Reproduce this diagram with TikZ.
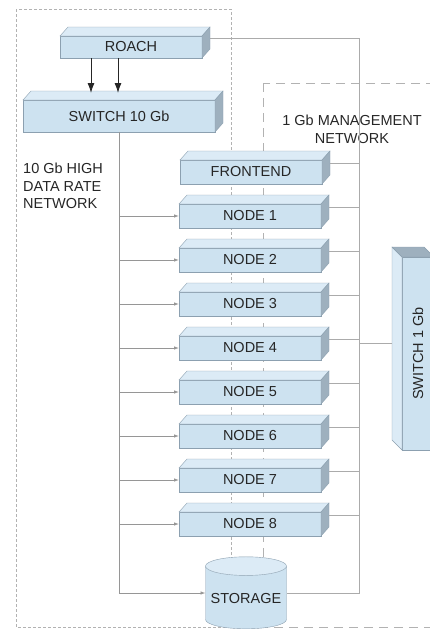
\documentclass[tikz,border=0pt]{standalone}
\usepackage{fontspec}
\setmainfont{Liberation Sans}
\usepackage{tikz}
\usetikzlibrary{positioning}
\usetikzlibrary{shapes.geometric}
\usetikzlibrary{arrows.meta}

\definecolor{boxfront}{RGB}{205,226,240}
\definecolor{boxtop}{RGB}{220,235,246}
\definecolor{boxside}{RGB}{158,176,190}
\definecolor{boxline}{RGB}{140,160,176}
\definecolor{wire}{RGB}{150,150,150}
\definecolor{zone}{RGB}{178,178,178}

\begin{document}
\begin{tikzpicture}[x=1pt,y=-1pt]
    \tikzset{slab/.style={shape=rectangle,draw=boxline,fill=boxfront,minimum width=142pt,minimum height=24pt,inner sep=2pt,outer sep=0pt,text=black!85,font=\fontsize{14.5}{17.5}\selectfont}}
    \tikzset{topface/.style={draw=boxline,fill=boxtop}}
    \tikzset{sideface/.style={draw=boxline,fill=boxside}}
    \tikzset{edge/.style = {->,> = {Latex[length=10pt,width=7pt]},line width=0.9pt,black!85}}
    \tikzset{bus/.style = {->,> = {Latex[length=5pt,width=3.5pt]},line width=0.8pt,wire}}
    \tikzset{mgmt/.style = {line width=0.8pt,wire!80}}
    \tikzset{zonetext/.style = {inner sep=0pt,font=\fontsize{14.5}{17.5}\selectfont,text=black!85}}
    \clip (0,0) rectangle (430,629);

    % network zones
    \draw[zone, line width=0.8pt, dash pattern=on 3pt off 2pt] (16,9) rectangle (231,627);
    \draw[zone, line width=0.8pt, dash pattern=on 9pt off 6pt] (263,83) rectangle (450,627);

    \node[slab, minimum height=22pt] (roach) at (131,47) {ROACH};
    \node[slab, minimum width=192pt, minimum height=32pt] (sw10) at (119,116) {SWITCH 10 Gb};
    \node[slab] (frontend) at (251,172) {FRONTEND};
    \foreach \i in {1,...,8}
        \node[slab] (node\i) at (250,172+44*\i) {NODE \i};
    \node[slab, minimum width=32pt, minimum height=193pt] (sw1) at (418,353.5) {\rotatebox{90}{SWITCH 1 Gb}};
    \node[cylinder, shape border rotate=90, aspect=0.25, draw=boxline, cylinder uses custom fill,
          cylinder body fill=boxfront, cylinder end fill=boxtop, minimum width=81pt, minimum height=72pt,
          inner sep=2pt, outer sep=0pt, text=black!85, font=\fontsize{14.5}{17.5}\selectfont] (storage) at (246,599) {STORAGE};

    % 3d faces
    \foreach \n in {roach,sw10,frontend,node1,node2,node3,node4,node5,node6,node7,node8} {
        \draw[topface] (\n.north west) -- ++(8pt,9pt) -- ([shift={(8pt,9pt)}]\n.north east) -- (\n.north east) -- cycle;
        \draw[sideface] (\n.north east) -- ++(8pt,9pt) -- ([shift={(8pt,9pt)}]\n.south east) -- (\n.south east) -- cycle;
    }
    \draw[topface] (sw1.south west) -- ++(-10pt,10pt) -- ([shift={(-10pt,10pt)}]sw1.north west) -- (sw1.north west) -- cycle;
    \draw[sideface] (sw1.north west) -- ++(-10pt,10pt) -- ([shift={(-10pt,10pt)}]sw1.north east) -- (sw1.north east) -- cycle;

    \node[zonetext, anchor=north west, align=left] (hdr) at (23,163) {10 Gb HIGH\\DATA RATE\\NETWORK};
    \node[zonetext, anchor=north, align=center] (mgr) at (352,115) {1 Gb MANAGEMENT\\NETWORK};

    % 10 Gb links
    \draw[edge, shorten >=7pt] ([xshift=-40pt]roach.south) -- ([xshift=-40pt]roach.south |- sw10.north);
    \draw[edge, shorten >=7pt] ([xshift=-13pt]roach.south) -- ([xshift=-13pt]roach.south |- sw10.north);
    \draw[bus] (sw10.south) |- ([yshift=6pt]storage.west);
    \foreach \i in {1,...,8}
        \draw[bus] (sw10.south |- node\i) -- (node\i);

    % 1 Gb links
    \coordinate (mbus) at (359,0);
    \draw[mgmt] ([shift={(8pt,9pt)}]roach.east) -- ([yshift=9pt]roach.east -| mbus) -- ([yshift=6pt]storage.east -| mbus) -- ([yshift=6pt]storage.east);
    \foreach \n in {frontend,node1,node2,node3,node4,node5,node6,node7,node8}
        \draw[mgmt] ([shift={(8pt,9pt)}]\n.east) -- ([yshift=9pt]\n.east -| mbus);
    \draw[mgmt] ([shift={(-10pt,10pt)}]sw1.west) -- ([yshift=10pt]sw1.west -| mbus);
\end{tikzpicture}
\end{document}
